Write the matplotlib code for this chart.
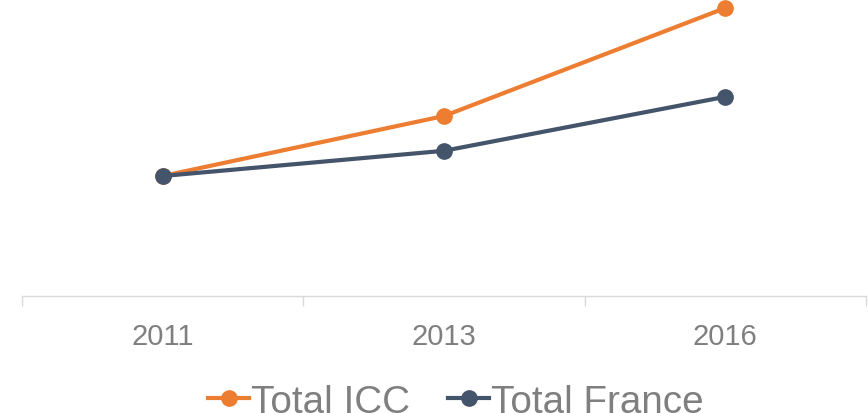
import matplotlib.pyplot as plt

plt.rcParams['font.family'] = ['Liberation Sans', 'DejaVu Sans']

# donnees (base 100 en 2011)
annees = ['2011', '2013', '2016']
total_icc = [100, 150, 240]
total_france = [100, 121, 166]

orange = '#ED7D31'
bleu = '#44546A'
gris = '#7F7F7F'

fig = plt.figure(figsize=(8.68, 4.14), dpi=100)
ax = fig.add_axes([22/868, 117/414, 844/868, 297/414])

x = range(len(annees))
ax.plot(x, total_icc, color=orange, lw=3, marker='o', ms=11,
        label='Total ICC', clip_on=False, zorder=3)
ax.plot(x, total_france, color=bleu, lw=3, marker='o', ms=11,
        label='Total France', clip_on=False, zorder=4)

ax.set_xlim(-0.5, 2.5)
ax.set_ylim(0, 247.5)
ax.set_xticks(x)
ax.set_xticklabels(annees, fontsize=21, color=gris)
ax.set_xticks([-0.5, 0.5, 1.5, 2.5], minor=True)
ax.tick_params(axis='x', which='major', length=0, pad=19)
ax.tick_params(axis='x', which='minor', length=7, color='#D9D9D9', width=1)
ax.set_yticks([])
for s in ['top', 'right', 'left']:
    ax.spines[s].set_visible(False)
ax.spines['bottom'].set_color('#D9D9D9')
ax.spines['bottom'].set_linewidth(1)

# titre coupe en haut de l'image
fig.text(443/868, 1.012, '(base 100 en 2011)', ha='center', va='baseline',
         fontsize=18, color='#595959')

fig.legend(loc='center', bbox_to_anchor=(456/868, 0.027), ncol=2,
           frameon=False, fontsize=27.8, labelcolor=gris,
           handlelength=1.05, handletextpad=0.05, columnspacing=1.0,
           borderaxespad=0, borderpad=0)

fig.savefig('out.png', dpi=100)
